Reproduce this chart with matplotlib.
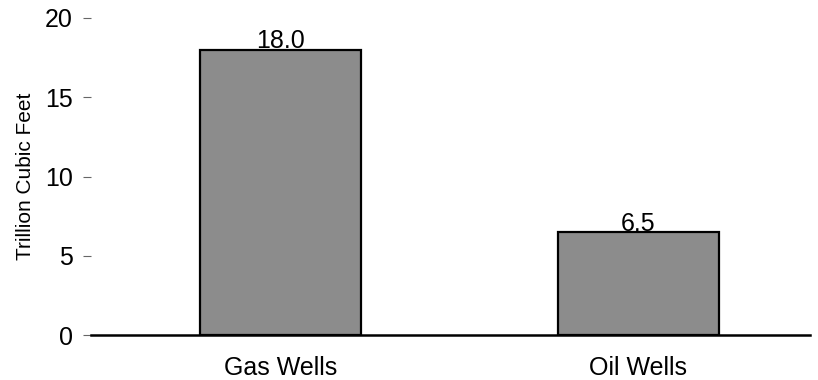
import matplotlib.pyplot as plt

plt.rcParams['font.family'] = ['Liberation Sans', 'DejaVu Sans']

categories = ['Gas Wells', 'Oil Wells']
values = [18.0, 6.5]
yticks = [0, 5, 10, 15, 20]

fig = plt.figure(figsize=(8.18, 3.8), dpi=100)
ax = fig.add_axes([0.111, 0.118, 0.879, 0.835])

x = range(len(categories))
bars = ax.bar(x, values, width=0.45, color='#8c8c8c', edgecolor='black', linewidth=1.6, zorder=2)
for b, v in zip(bars, values):
    ax.annotate(f'{v:.1f}', (b.get_x() + b.get_width() / 2, v), xytext=(0, 1),
                textcoords='offset points', ha='center', va='baseline', fontsize=18)

ax.set_xlim(-0.53, 1.48)
ax.set_ylim(0, 20)
ax.set_yticks(yticks)
ax.set_xticks(list(x))
ax.set_xticklabels(categories, fontsize=18)
ax.tick_params(axis='y', labelsize=18, length=6, width=0.8, color='#666666', pad=7)
ax.tick_params(axis='x', length=0, pad=15)
for s in ['top', 'right', 'left']:
    ax.spines[s].set_visible(False)
ax.spines['bottom'].set_linewidth(1.8)
ax.set_ylabel('Trillion Cubic Feet', fontsize=15, labelpad=7)

fig.savefig('out.png', dpi=100)
